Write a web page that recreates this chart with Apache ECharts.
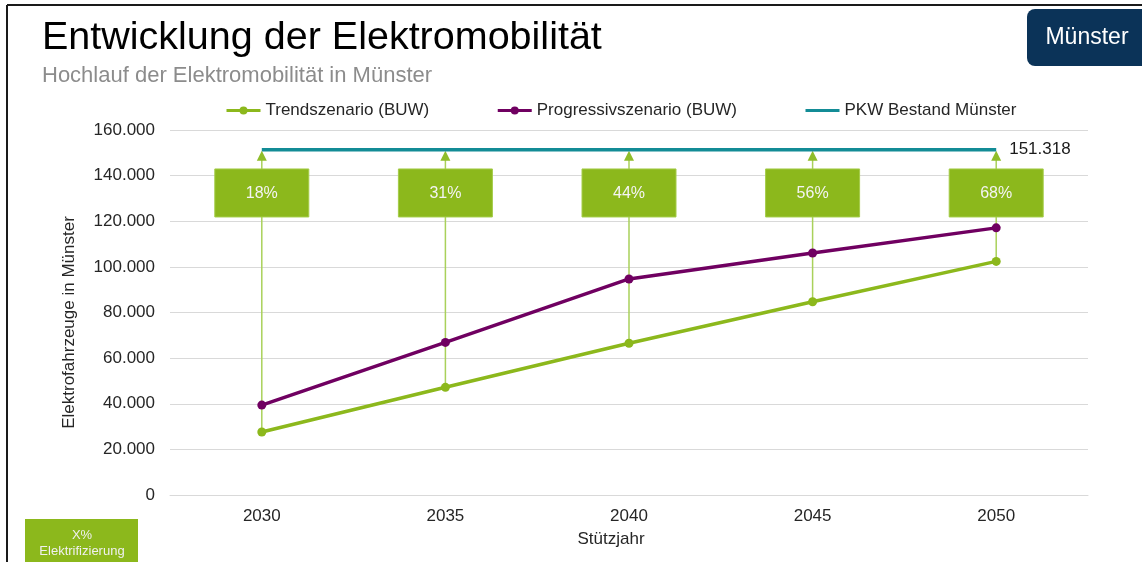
<!DOCTYPE html>
<html>
<head>
<meta charset="utf-8">
<script src="https://cdn.jsdelivr.net/npm/echarts@6/dist/echarts.min.js"></script>
<style>
html,body{margin:0;padding:0;background:#fff;}
#chart{width:1142px;height:562px;}
</style>
</head>
<body>
<div id="chart"></div>
<script>
var years = ['2030', '2035', '2040', '2045', '2050'];
var trendValues = [27600, 47200, 66500, 84700, 102400];
var progressiveValues = [39400, 66900, 94700, 106100, 117100];
var pkwBestand = [151318, 151318, 151318, 151318, 151318];
var shareLabels = ['18%', '31%', '44%', '56%', '68%'];

var FONT = '"Liberation Sans", Arial, sans-serif';
var GREEN = '#8cb81c';
var PURPLE = '#700061';
var TEAL = '#138c96';

function fmtDE(v) {
  return String(Math.round(v)).replace(/\B(?=(\d{3})+(?!\d))/g, '.');
}

var arrowData = years.map(function (y, i) {
  return [i, trendValues[i], pkwBestand[i], shareLabels[i]];
});

var chart = echarts.init(document.getElementById('chart'), null, {renderer: 'canvas'});

chart.setOption({
  animation: false,
  backgroundColor: '#ffffff',
  textStyle: {fontFamily: FONT},
  title: [
    {text: 'Entwicklung der Elektromobilität', left: 37, top: 13,
     textStyle: {fontFamily: FONT, fontSize: 39.5, fontWeight: 'normal', color: '#000'}},
    {text: 'Hochlauf der Elektromobilität in Münster', left: 37, top: 60,
     textStyle: {fontFamily: FONT, fontSize: 22, fontWeight: 'normal', color: '#8c8c8c'}}
  ],
  legend: {
    left: 220, top: 97,
    itemWidth: 34, itemHeight: 10, itemGap: 67,
    lineStyle: {width: 3},
    textStyle: {fontFamily: FONT, fontSize: 17, color: '#262626'},
    data: [
      'Trendszenario (BUW)',
      'Progressivszenario (BUW)',
      {name: 'PKW Bestand Münster', itemStyle: {color: 'rgba(0,0,0,0)', borderColor: 'rgba(0,0,0,0)', borderWidth: 0}}
    ]
  },
  grid: {left: 170, right: 54, top: 130, bottom: 67, containLabel: false, outerBoundsMode: 'none'},
  xAxis: {
    type: 'category',
    data: years,
    boundaryGap: true,
    name: 'Stützjahr',
    nameLocation: 'middle',
    nameGap: 36,
    nameTextStyle: {fontFamily: FONT, fontSize: 17, color: '#262626', padding: [0, 36, 0, 0]},
    axisLine: {lineStyle: {color: '#d9d9d9', width: 1}},
    axisTick: {show: false},
    axisLabel: {fontFamily: FONT, fontSize: 17, color: '#262626', margin: 13}
  },
  yAxis: {
    type: 'value',
    min: 0, max: 160000, interval: 20000,
    name: 'Elektrofahrzeuge in Münster',
    nameLocation: 'middle',
    nameGap: 92,
    nameRotate: 90,
    nameTextStyle: {fontFamily: FONT, fontSize: 17, color: '#262626', padding: [0, 20, 0, 0]},
    axisLine: {show: false},
    axisTick: {show: false},
    splitLine: {lineStyle: {color: '#d9d9d9', width: 1}},
    axisLabel: {fontFamily: FONT, fontSize: 17, color: '#262626', margin: 15,
      formatter: function (v) { return fmtDE(v); }}
  },
  series: [
    {
      type: 'custom',
      name: 'Elektrifizierung',
      z: 1,
      silent: true,
      encode: {x: 0, y: [1, 2]},
      data: arrowData,
      renderItem: function (params, api) {
        var idx = api.value(0);
        var p0 = api.coord([idx, api.value(1)]);
        var p1 = api.coord([idx, api.value(2)]);
        var box = api.coord([idx, 132400]);
        var x = p0[0];
        var tipY = p1[1] + 1;
        return {
          type: 'group',
          children: [
            {type: 'line', shape: {x1: x, y1: p0[1], x2: x, y2: tipY + 9},
             style: {stroke: '#a9d15a', lineWidth: 1.5}},
            {type: 'polygon', shape: {points: [[x, tipY], [x - 5, tipY + 10], [x + 5, tipY + 10]]},
             style: {fill: '#8fbd2a'}},
            {type: 'rect', shape: {x: x - 47, y: box[1] - 24, width: 94, height: 48},
             style: {fill: GREEN, stroke: '#a4cc48', lineWidth: 1}},
            {type: 'text', x: x, y: box[1] + 1,
             style: {text: api.value(3), fill: '#f4f4f4', font: '16px ' + FONT,
                     align: 'center', verticalAlign: 'middle'}}
          ]
        };
      }
    },
    {
      type: 'line',
      name: 'Trendszenario (BUW)',
      z: 3,
      data: trendValues,
      symbol: 'circle', symbolSize: 9,
      lineStyle: {color: GREEN, width: 3.5},
      itemStyle: {color: GREEN}
    },
    {
      type: 'line',
      name: 'Progressivszenario (BUW)',
      z: 3,
      data: progressiveValues,
      symbol: 'circle', symbolSize: 9,
      lineStyle: {color: PURPLE, width: 3.5},
      itemStyle: {color: PURPLE}
    },
    {
      type: 'line',
      name: 'PKW Bestand Münster',
      z: 2,
      data: pkwBestand,
      symbol: 'none',
      lineStyle: {color: TEAL, width: 3.5},
      itemStyle: {color: TEAL},
      endLabel: {show: true, distance: 13, fontFamily: FONT, fontSize: 17, color: '#1a1a1a',
        formatter: function (p) { return fmtDE(p.value); }}
    }
  ],
  graphic: [
    {type: 'line', shape: {x1: 7, y1: 5, x2: 1142, y2: 5}, style: {stroke: '#1a1a1a', lineWidth: 2}},
    {type: 'line', shape: {x1: 7, y1: 5, x2: 7, y2: 562}, style: {stroke: '#1a1a1a', lineWidth: 2}},
    {type: 'rect', shape: {x: 1027, y: 9, width: 130, height: 57, r: 8}, style: {fill: '#0b3358'}},
    {type: 'text', x: 1087, y: 38, style: {text: 'Münster', fill: '#ffffff', font: '23px ' + FONT,
      align: 'center', verticalAlign: 'middle'}},
    {type: 'rect', shape: {x: 25, y: 519, width: 113, height: 50}, style: {fill: GREEN}},
    {type: 'text', x: 82, y: 535, style: {text: 'X%', fill: '#f0f0f0', font: '13px ' + FONT,
      align: 'center', verticalAlign: 'middle'}},
    {type: 'text', x: 82, y: 551, style: {text: 'Elektrifizierung', fill: '#f0f0f0', font: '13px ' + FONT,
      align: 'center', verticalAlign: 'middle'}}
  ]
});
</script>
</body>
</html>
